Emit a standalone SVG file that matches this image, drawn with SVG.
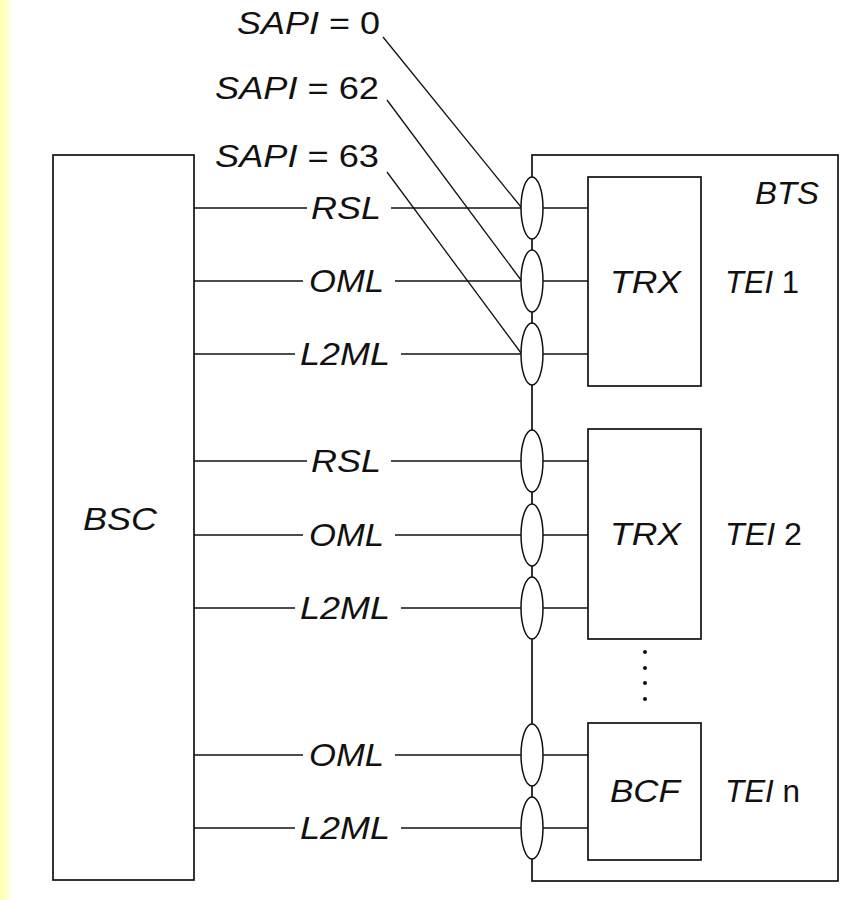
<svg xmlns="http://www.w3.org/2000/svg" width="856" height="900" viewBox="0 0 856 900">
<defs>
<linearGradient id="strip" x1="0" y1="0" x2="1" y2="0">
<stop offset="0" stop-color="#ffffb0"/>
<stop offset="1" stop-color="#fffde6"/>
</linearGradient>
<style>
.box{fill:none;stroke:#111;stroke-width:1.7}
.ln{fill:none;stroke:#111;stroke-width:1.3}
.sap{fill:#fff;stroke:#111;stroke-width:1.5}
text{font-family:"Liberation Sans",Arial,sans-serif;font-size:31px;fill:#111}
.it{font-style:italic}
.dot{fill:#111}
</style>
</defs>
<rect x="0" y="0" width="856" height="900" fill="#fff"/>
<rect x="0" y="0" width="11" height="900" fill="url(#strip)"/>

<g id="bsc">
<rect class="box" x="53" y="155" width="141" height="725"/>
<text class="it" x="83" y="530" textLength="74" lengthAdjust="spacingAndGlyphs">BSC</text>
</g>

<g id="bts">
<rect class="box" x="532" y="155" width="306" height="726"/>
<text class="it" x="755" y="204" textLength="64" lengthAdjust="spacingAndGlyphs">BTS</text>
</g>

<g id="connectors">
<!-- SAPI diagonals -->
<line class="ln" x1="383" y1="37" x2="521" y2="207"/>
<line class="ln" x1="387" y1="100" x2="521" y2="280"/>
<line class="ln" x1="387" y1="172" x2="521" y2="353"/>
<!-- group 1 -->
<line class="ln" x1="194" y1="208" x2="307" y2="208"/><line class="ln" x1="391" y1="208" x2="521" y2="208"/>
<line class="ln" x1="194" y1="281" x2="303" y2="281"/><line class="ln" x1="395" y1="281" x2="521" y2="281"/>
<line class="ln" x1="194" y1="354" x2="295" y2="354"/><line class="ln" x1="401" y1="354" x2="521" y2="354"/>
<!-- group 2 -->
<line class="ln" x1="194" y1="461" x2="307" y2="461"/><line class="ln" x1="391" y1="461" x2="521" y2="461"/>
<line class="ln" x1="194" y1="535" x2="303" y2="535"/><line class="ln" x1="395" y1="535" x2="521" y2="535"/>
<line class="ln" x1="194" y1="608" x2="295" y2="608"/><line class="ln" x1="401" y1="608" x2="521" y2="608"/>
<!-- group 3 -->
<line class="ln" x1="194" y1="755" x2="303" y2="755"/><line class="ln" x1="395" y1="755" x2="521" y2="755"/>
<line class="ln" x1="194" y1="828" x2="295" y2="828"/><line class="ln" x1="401" y1="828" x2="521" y2="828"/>
<!-- ellipse to units -->
<line class="ln" x1="543" y1="208" x2="588" y2="208"/>
<line class="ln" x1="543" y1="281" x2="588" y2="281"/>
<line class="ln" x1="543" y1="354" x2="588" y2="354"/>
<line class="ln" x1="543" y1="461" x2="588" y2="461"/>
<line class="ln" x1="543" y1="535" x2="588" y2="535"/>
<line class="ln" x1="543" y1="608" x2="588" y2="608"/>
<line class="ln" x1="543" y1="755" x2="588" y2="755"/>
<line class="ln" x1="543" y1="828" x2="588" y2="828"/>
</g>

<g id="labels">
<text x="237" y="34" textLength="143" lengthAdjust="spacingAndGlyphs"><tspan class="it">SAPI</tspan> = 0</text>
<text x="215" y="99" textLength="164" lengthAdjust="spacingAndGlyphs"><tspan class="it">SAPI</tspan> = 62</text>
<text x="215" y="167" textLength="164" lengthAdjust="spacingAndGlyphs"><tspan class="it">SAPI</tspan> = 63</text>
<text class="it" x="311" y="219" textLength="70" lengthAdjust="spacingAndGlyphs">RSL</text>
<text class="it" x="309" y="292" textLength="75" lengthAdjust="spacingAndGlyphs">OML</text>
<text class="it" x="300" y="365" textLength="90" lengthAdjust="spacingAndGlyphs">L2ML</text>
<text class="it" x="311" y="472" textLength="70" lengthAdjust="spacingAndGlyphs">RSL</text>
<text class="it" x="309" y="546" textLength="75" lengthAdjust="spacingAndGlyphs">OML</text>
<text class="it" x="300" y="619" textLength="90" lengthAdjust="spacingAndGlyphs">L2ML</text>
<text class="it" x="309" y="766" textLength="75" lengthAdjust="spacingAndGlyphs">OML</text>
<text class="it" x="300" y="839" textLength="90" lengthAdjust="spacingAndGlyphs">L2ML</text>
</g>

<g id="saps">
<ellipse class="sap" cx="532" cy="208" rx="11" ry="31"/>
<ellipse class="sap" cx="532" cy="281" rx="11" ry="31"/>
<ellipse class="sap" cx="532" cy="354" rx="11" ry="31"/>
<ellipse class="sap" cx="532" cy="461" rx="11" ry="31"/>
<ellipse class="sap" cx="532" cy="535" rx="11" ry="31"/>
<ellipse class="sap" cx="532" cy="608" rx="11" ry="31"/>
<ellipse class="sap" cx="532" cy="755" rx="11" ry="31"/>
<ellipse class="sap" cx="532" cy="828" rx="11" ry="31"/>
</g>

<g id="trx1">
<rect class="box" x="588" y="177" width="113" height="209"/>
<text class="it" x="610" y="293" textLength="71" lengthAdjust="spacingAndGlyphs">TRX</text>
<text x="725" y="293" textLength="74" lengthAdjust="spacingAndGlyphs"><tspan class="it">TEI</tspan> 1</text>
</g>

<g id="trx2">
<rect class="box" x="588" y="429" width="113" height="210"/>
<text class="it" x="610" y="545" textLength="71" lengthAdjust="spacingAndGlyphs">TRX</text>
<text x="725" y="545" textLength="77" lengthAdjust="spacingAndGlyphs"><tspan class="it">TEI</tspan> 2</text>
</g>

<g id="more">
<circle class="dot" cx="645" cy="652" r="2"/>
<circle class="dot" cx="645" cy="668" r="2"/>
<circle class="dot" cx="645" cy="683" r="2"/>
<circle class="dot" cx="645" cy="699" r="2"/>
</g>

<g id="bcf">
<rect class="box" x="588" y="723" width="113" height="137"/>
<text class="it" x="610" y="802" textLength="70" lengthAdjust="spacingAndGlyphs">BCF</text>
<text x="725" y="802" textLength="75" lengthAdjust="spacingAndGlyphs"><tspan class="it">TEI</tspan> n</text>
</g>
</svg>
